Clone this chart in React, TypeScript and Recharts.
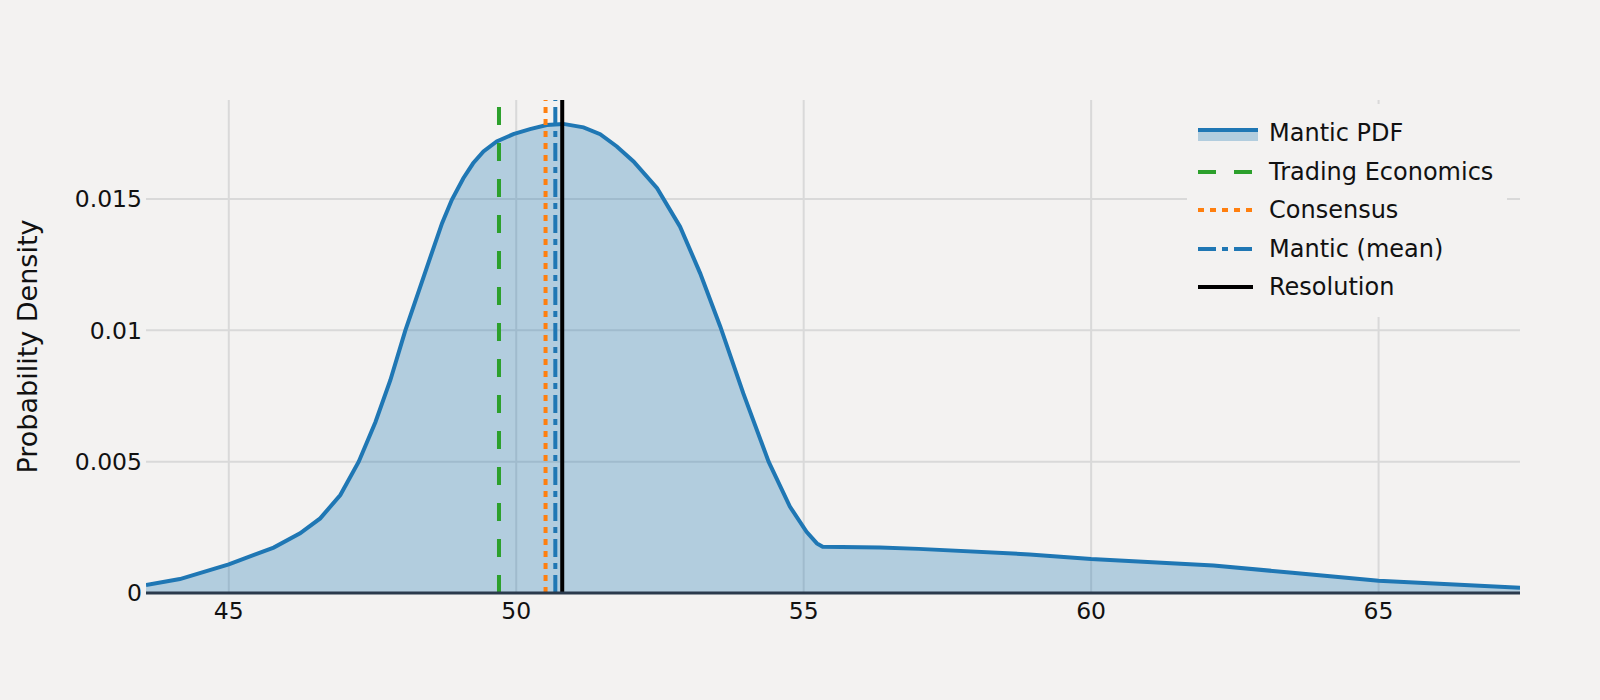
import {
  ComposedChart,
  Area,
  XAxis,
  YAxis,
  CartesianGrid,
  ReferenceLine,
  Legend,
} from "recharts";

// density curve
const pdfX = [
  43.56, 44.15, 45.0, 45.78, 46.24, 46.59, 46.94, 47.26, 47.55, 47.81, 48.07,
  48.45, 48.71, 48.88, 49.08, 49.25, 49.43, 49.66, 49.95, 50.24, 50.53, 50.82,
  51.17, 51.46, 51.75, 52.04, 52.45, 52.85, 53.2, 53.55, 53.95, 54.39, 54.76,
  55.05, 55.23, 55.33, 56.33, 57.0, 58.93, 60.0, 62.13, 63.5, 65.0, 67.46,
];
const pdfY = [
  0.0003, 0.00053, 0.00109, 0.00173, 0.00227, 0.00284, 0.00373, 0.005, 0.0065,
  0.0081, 0.00999, 0.01243, 0.01408, 0.01497, 0.01579, 0.01636, 0.01681,
  0.01719, 0.01747, 0.01766, 0.01782, 0.01786, 0.01773, 0.01747, 0.017,
  0.01643, 0.01541, 0.01395, 0.01217, 0.01014, 0.0076, 0.005, 0.00329, 0.00233,
  0.00189, 0.00176, 0.00173, 0.00168, 0.00147, 0.00129, 0.00105, 0.00077,
  0.00047, 0.0002,
];

const markerNames = ["Trading Economics", "Consensus", "Mantic (mean)", "Resolution"];
const markerValues = [49.7, 50.51, 50.68, 50.8];

const xTicks = [45, 50, 55, 60, 65];
const yTicks = [0, 0.005, 0.01, 0.015];
const yTickLabels = ["0", "0.005", "0.01", "0.015"];

const BG = "#f3f2f1";
const BLUE = "#1f77b4";
const FONT = "'DejaVu Sans', Verdana, sans-serif";
const markerStyles = [
  { color: "#2ca02c", dash: "18 18" },
  { color: "#ff7f0e", dash: "6 6" },
  { color: "#1f77b4", dash: "18 6 6 6" },
  { color: "#000000", dash: undefined },
];

const data = pdfX.map((x, i) => ({ x, y: pdfY[i] }));

const LegendBox = () => (
  <div
    style={{
      background: BG,
      padding: "10px 11px",
      width: 320,
      boxSizing: "border-box",
      fontFamily: FONT,
      fontSize: 24,
      color: "#111",
    }}
  >
    <div style={{ display: "flex", alignItems: "center", height: 38.5 }}>
      <svg width={60} height={16} style={{ flexShrink: 0 }}>
        <rect x={0} y={7} width={60} height={9} fill={BLUE} fillOpacity={0.3} />
        <line x1={0} x2={60} y1={5} y2={5} stroke={BLUE} strokeWidth={4} />
      </svg>
      <span style={{ marginLeft: 11, whiteSpace: "nowrap" }}>Mantic PDF</span>
    </div>
    {markerNames.map((name, i) => (
      <div key={name} style={{ display: "flex", alignItems: "center", height: 38.5 }}>
        <svg width={60} height={16} style={{ flexShrink: 0 }}>
          <line
            x1={0}
            x2={55}
            y1={8}
            y2={8}
            stroke={markerStyles[i].color}
            strokeWidth={4}
            strokeDasharray={markerStyles[i].dash}
          />
        </svg>
        <span style={{ marginLeft: 11, whiteSpace: "nowrap" }}>{name}</span>
      </div>
    ))}
  </div>
);

// eslint-disable-next-line @typescript-eslint/no-explicit-any
const YTitle = (props: any) => {
  const vb = props.viewBox;
  const cx = vb.x + 27;
  const cy = vb.y + vb.height / 2;
  return (
    <text
      x={cx}
      y={cy}
      transform={`rotate(-90 ${cx} ${cy})`}
      textAnchor="middle"
      dominantBaseline="central"
      fontSize={27}
      fontFamily={FONT}
      fill="#111"
    >
      Probability Density
    </text>
  );
};

export default function App() {
  return (
    <div
      style={{
        position: "absolute",
        left: 0,
        top: 0,
        width: 1600,
        height: 700,
        background: BG,
      }}
    >
      <ComposedChart
        width={1600}
        height={700}
        data={data}
        margin={{ top: 100, right: 80, bottom: 0, left: 0 }}
        style={{ fontFamily: FONT }}
      >
        <CartesianGrid
          stroke="#d9d9d9"
          strokeWidth={2}
          horizontalValues={yTicks}
          verticalValues={xTicks}
        />
        <XAxis
          dataKey="x"
          type="number"
          domain={[43.56, 67.46]}
          allowDataOverflow
          ticks={xTicks}
          axisLine={false}
          tickLine={false}
          tickSize={0}
          tickMargin={9}
          height={107}
          tick={{ fontSize: 23.5, fill: "#111", fontFamily: FONT }}
        />
        <YAxis
          type="number"
          domain={[0, 0.01877]}
          allowDataOverflow
          ticks={yTicks}
          tickFormatter={(v: number) => yTickLabels[yTicks.indexOf(v)] ?? String(v)}
          axisLine={false}
          tickLine={false}
          tickSize={0}
          tickMargin={4}
          width={146}
          tick={{ fontSize: 23.5, fill: "#111", fontFamily: FONT }}
          label={{ content: <YTitle /> }}
        />
        <Legend
          layout="vertical"
          align="center"
          verticalAlign="middle"
          wrapperStyle={{ left: 1187, top: 104, width: 320 }}
          content={<LegendBox />}
        />
        <Area
          type="linear"
          dataKey="y"
          name="Mantic PDF"
          stroke={BLUE}
          strokeWidth={4}
          fill={BLUE}
          fillOpacity={0.3}
          dot={false}
          activeDot={false}
          isAnimationActive={false}
        />
        {markerValues.map((v, i) => (
          <ReferenceLine
            key={markerNames[i]}
            x={v}
            stroke={markerStyles[i].color}
            strokeWidth={4}
            strokeDasharray={markerStyles[i].dash}
          />
        ))}
        <ReferenceLine y={0} stroke="#2a3a4c" strokeWidth={3} />
      </ComposedChart>
    </div>
  );
}
